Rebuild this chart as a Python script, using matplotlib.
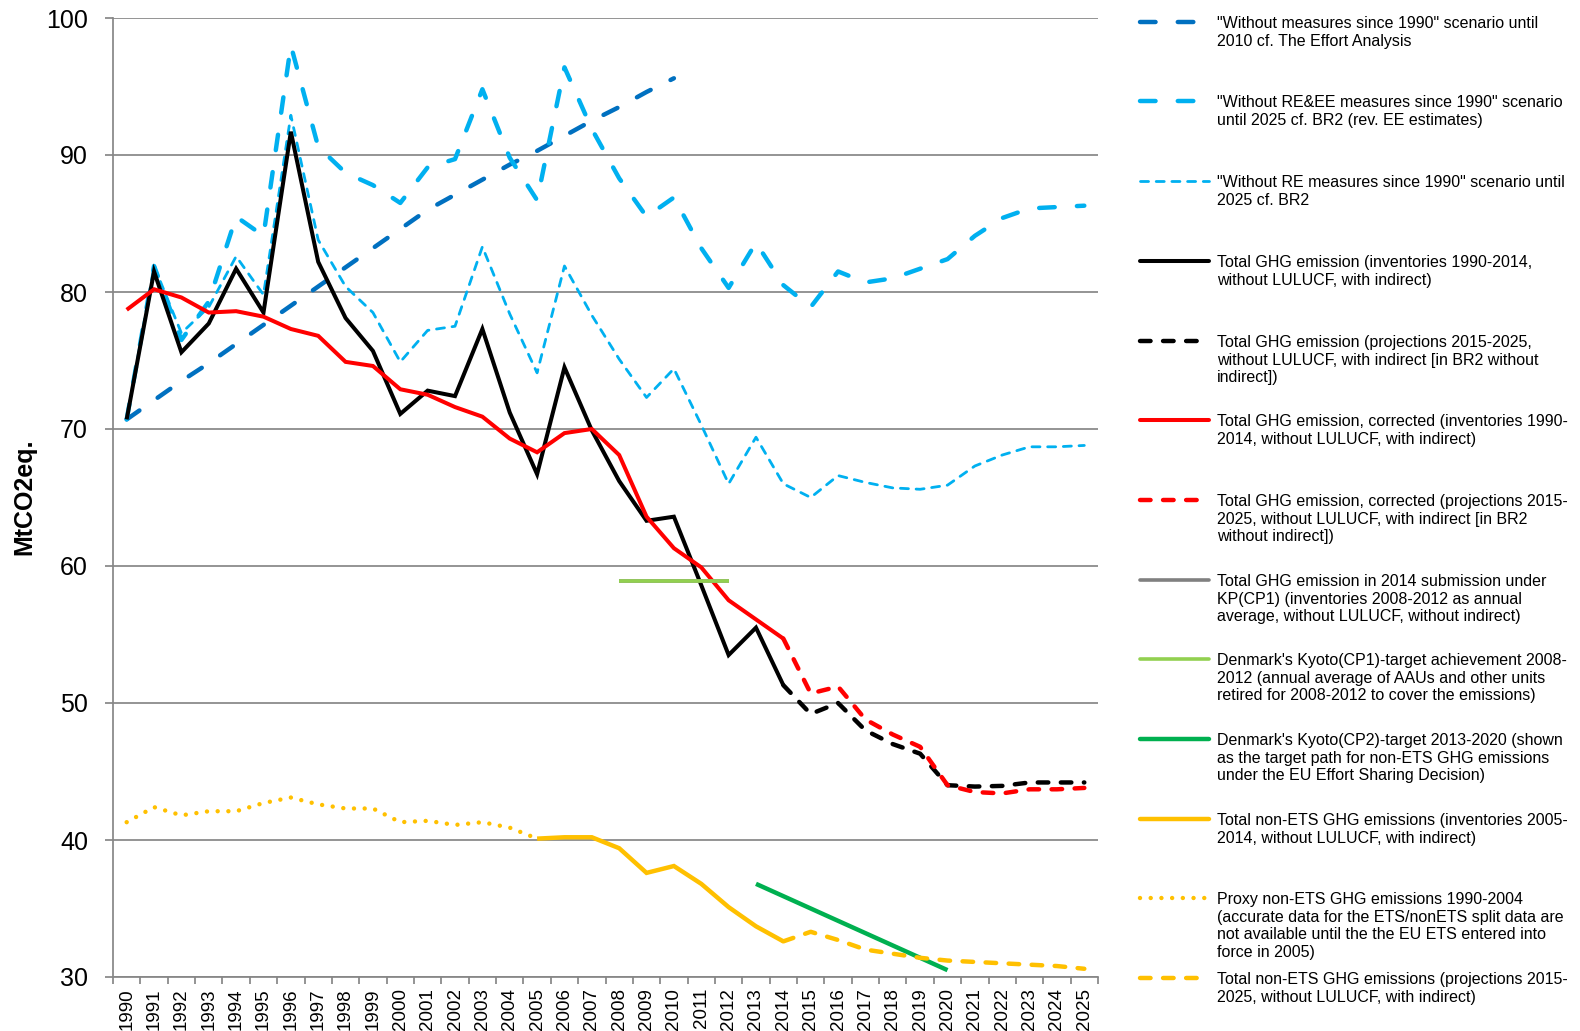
import matplotlib
matplotlib.use("Agg")
import matplotlib.pyplot as plt
from matplotlib.lines import Line2D
import numpy as np

plt.rcParams['font.family'] = ['Liberation Sans', 'DejaVu Sans']
plt.rcParams['lines.scale_dashes'] = False

years = list(range(1990, 2026))

wm_years = list(range(1990, 2011))
wm_vals = [70.7, 72.1, 73.5, 74.8, 76.2, 77.6, 79.0, 80.4, 81.8, 83.2, 84.6,
           86.0, 87.1, 88.2, 89.3, 90.3, 91.4, 92.5, 93.5, 94.6, 95.6]

ree_years = list(range(1990, 2026))
ree_vals = [70.7, 81.9, 76.5, 79.3, 85.5, 84.1, 98.0, 90.6, 88.7, 87.8, 86.5,
            89.1, 89.7, 94.8, 89.8, 86.7, 96.4, 91.9, 88.3, 85.5, 86.9,
            83.2, 80.3, 83.6, 80.5, 78.9, 81.5, 80.7, 81.0, 81.7, 82.4,
            84.1, 85.4, 86.1, 86.2, 86.3]

re_years = list(range(1990, 2026))
re_vals = [70.7, 81.9, 77.0, 78.9, 82.6, 79.8, 92.9, 83.8, 80.4, 78.5, 74.9,
           77.2, 77.5, 83.3, 78.4, 74.1, 81.9, 78.3, 75.1, 72.3, 74.4,
           70.3, 66.0, 69.4, 66.0, 65.0, 66.6, 66.1, 65.7, 65.6, 65.9,
           67.3, 68.1, 68.7, 68.7, 68.8]

tot_years = list(range(1990, 2015))
tot_vals = [70.7, 81.5, 75.6, 77.7, 81.7, 78.5, 91.7, 82.2, 78.1, 75.7, 71.1,
            72.8, 72.4, 77.3, 71.2, 66.7, 74.5, 69.9, 66.2, 63.3, 63.6,
            58.6, 53.5, 55.5, 51.3]

totp_years = list(range(2014, 2026))
totp_vals = [51.3, 49.2, 50.0, 48.0, 47.0, 46.3, 44.0, 43.9, 43.95, 44.2, 44.2, 44.2]

cor_years = list(range(1990, 2015))
cor_vals = [78.7, 80.2, 79.6, 78.5, 78.6, 78.2, 77.3, 76.8, 74.9, 74.6, 72.9,
            72.5, 71.6, 70.9, 69.3, 68.3, 69.7, 70.0, 68.1, 63.6, 61.3,
            59.9, 57.5, 56.1, 54.7]

corp_years = list(range(2014, 2026))
corp_vals = [54.7, 50.7, 51.2, 48.8, 47.7, 46.8, 44.0, 43.5, 43.4, 43.7, 43.7, 43.8]

kp_years = list(range(2008, 2013))
kp_vals = [58.9, 58.9, 58.9, 58.9, 58.9]

cp1_years = list(range(2008, 2013))
cp1_vals = [58.9, 58.9, 58.9, 58.9, 58.9]

cp2_years = list(range(2013, 2021))
cp2_vals = [36.8, 35.9, 35.0, 34.1, 33.2, 32.3, 31.4, 30.5]

nets_years = list(range(2005, 2015))
nets_vals = [40.1, 40.2, 40.2, 39.4, 37.6, 38.1, 36.8, 35.1, 33.7, 32.6]

proxy_years = list(range(1990, 2006))
proxy_vals = [41.3, 42.4, 41.8, 42.1, 42.1, 42.7, 43.1, 42.6, 42.3, 42.3, 41.3,
              41.4, 41.1, 41.3, 40.9, 40.1]

netsp_years = list(range(2014, 2026))
netsp_vals = [32.6, 33.3, 32.7, 32.0, 31.7, 31.4, 31.2, 31.1, 31.0, 30.9, 30.8, 30.6]

labels = [
    '"Without measures since 1990" scenario until\n2010 cf. The Effort Analysis',
    '"Without RE&EE measures since 1990" scenario\nuntil 2025 cf. BR2 (rev. EE estimates)',
    '"Without RE measures since 1990" scenario until\n2025 cf. BR2',
    'Total GHG emission (inventories 1990-2014,\nwithout LULUCF, with indirect)',
    'Total GHG emission (projections 2015-2025,\nwithout LULUCF, with indirect [in BR2 without\nindirect])',
    'Total GHG emission, corrected (inventories 1990-\n2014, without LULUCF, with indirect)',
    'Total GHG emission, corrected (projections 2015-\n2025, without LULUCF, with indirect [in BR2\nwithout indirect])',
    'Total GHG emission in 2014 submission under\nKP(CP1) (inventories 2008-2012 as annual\naverage, without LULUCF, without indirect)',
    "Denmark's Kyoto(CP1)-target achievement 2008-\n2012 (annual average of AAUs and other units\nretired for 2008-2012 to cover the emissions)",
    "Denmark's Kyoto(CP2)-target 2013-2020 (shown\nas the target path for non-ETS GHG emissions\nunder the EU Effort Sharing Decision)",
    'Total non-ETS GHG emissions (inventories 2005-\n2014, without LULUCF, with indirect)',
    'Proxy non-ETS GHG emissions 1990-2004\n(accurate data for the ETS/nonETS split data are\nnot available until the the EU ETS entered into\nforce in 2005)',
    'Total non-ETS GHG emissions (projections 2015-\n2025, without LULUCF, with indirect)',
]

W, H = 1580, 1031
fig = plt.figure(figsize=(W / 100, H / 100), dpi=100)
ax = fig.add_axes([113 / W, 1 - 977 / H, (1098 - 113) / W, (977 - 18) / H])

long_dash = (0, (11.2, 16.0))
thin_dash = (0, (5.8, 5.5))
med_dash = (0, (7.6, 9.0))
dot = (0, (0.01, 7.7))

styles = [
    dict(color='#0070C0', lw=3.2, ls=long_dash),
    dict(color='#00B0F0', lw=3.2, ls=long_dash),
    dict(color='#00B0F0', lw=2.0, ls=thin_dash),
    dict(color='black', lw=2.9, ls='-'),
    dict(color='black', lw=3.2, ls=med_dash),
    dict(color='#FF0000', lw=2.9, ls='-'),
    dict(color='#FF0000', lw=3.2, ls=med_dash),
    dict(color='#808080', lw=2.6, ls='-'),
    dict(color='#92D050', lw=2.6, ls='-'),
    dict(color='#00B050', lw=3.2, ls='-'),
    dict(color='#FFC000', lw=3.2, ls='-'),
    dict(color='#FFC000', lw=3.2, ls=dot),
    dict(color='#FFC000', lw=3.2, ls=med_dash),
]

series = [(wm_years, wm_vals), (ree_years, ree_vals), (re_years, re_vals),
          (tot_years, tot_vals), (totp_years, totp_vals),
          (cor_years, cor_vals), (corp_years, corp_vals),
          (kp_years, kp_vals), (cp1_years, cp1_vals), (cp2_years, cp2_vals),
          (nets_years, nets_vals), (proxy_years, proxy_vals),
          (netsp_years, netsp_vals)]

for (yrs, vals), st in zip(series, styles):
    xs = [years.index(y) for y in yrs]
    ax.plot(xs, vals, color=st['color'], lw=st['lw'], linestyle=st['ls'],
            dash_capstyle='round', solid_capstyle='butt', solid_joinstyle='miter',
            clip_on=False)

ax.set_xlim(-0.5, len(years) - 0.5)
ax.set_ylim(30, 100)
ax.set_yticks(range(30, 101, 10))
ax.yaxis.grid(True, color='#878787', lw=1.25)
ax.set_axisbelow(True)
for s in ['top', 'right']:
    ax.spines[s].set_visible(False)
for s in ['left', 'bottom']:
    ax.spines[s].set_color('#878787')
    ax.spines[s].set_linewidth(1.25)

ax.set_xticks(range(len(years)))
ax.set_xticklabels([str(y) for y in years], rotation=90, fontsize=13.5)
ax.set_xticks(np.arange(-0.5, len(years), 1.0), minor=True)
ax.tick_params(axis='x', which='major', length=0, pad=8)
ax.tick_params(axis='x', which='minor', length=5, color='#878787', width=1.25)
ax.tick_params(axis='y', length=6, color='#878787', width=1.25, labelsize=18, pad=12)

fig.text(24 / W, 1 - 496.5 / H, 'MtCO2eq.', rotation=90, fontsize=18,
         fontweight='bold', ha='center', va='center')

# legend (manual layout)
entry_y = [22, 101, 181, 261, 341, 420, 500, 580, 659, 739, 819, 898, 978]
hx0, hx1, tx = 1140, 1209, 1217
for lab, st, yy in zip(labels, styles, entry_y):
    fy = 1 - yy / H
    ln = Line2D([hx0 / W, hx1 / W], [fy, fy], transform=fig.transFigure,
                color=st['color'], lw=st['lw'], linestyle=st['ls'],
                dash_capstyle='round', solid_capstyle='round')
    fig.add_artist(ln)
    fig.text(tx / W, 1 - (yy - 6) / H, lab, fontsize=11.5, va='top', ha='left',
             linespacing=1.22)

fig.savefig('out.png', dpi=100)
